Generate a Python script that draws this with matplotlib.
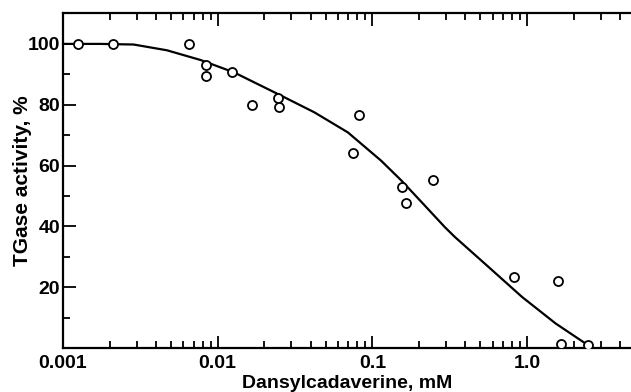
import matplotlib
matplotlib.use('Agg')
import matplotlib.pyplot as plt
from matplotlib.ticker import LogLocator, FixedLocator, NullFormatter

plt.rcParams['font.family'] = ['Liberation Sans', 'DejaVu Sans']
plt.rcParams['font.weight'] = 'bold'

# measured points
conc = [0.00125, 0.0021, 0.0065, 0.0084, 0.0084, 0.01245, 0.0167, 0.0245, 0.025,
        0.075, 0.082, 0.156, 0.166, 0.248, 0.82, 1.58, 1.65, 2.48]
activity = [100, 100, 100, 93.0, 89.5, 90.8, 79.9, 82.1, 79.1,
            64.2, 76.6, 52.9, 47.6, 55.3, 23.4, 22.1, 1.2, 1.0]

# fitted curve
curve_x = [0.001, 0.00174, 0.00286, 0.0047, 0.00776, 0.0128, 0.0257, 0.0422,
           0.0695, 0.114, 0.154, 0.208, 0.295, 0.342, 0.563, 0.929, 1.53, 2.39]
curve_y = [100, 100, 99.8, 97.9, 94.7, 90.6, 83.0, 77.5,
           70.9, 61.6, 55.1, 48.0, 39.7, 36.5, 26.7, 16.8, 8.1, 1.5]

xticks = [0.001, 0.01, 0.1, 1.0]
xtick_labels = ['0.001', '0.01', '0.1', '1.0']
yticks = [20, 40, 60, 80, 100]

fig = plt.figure(figsize=(6.31, 3.92), dpi=100)
ax = fig.add_axes([0.0998, 0.112, 0.9002, 0.8536])

ax.plot(curve_x, curve_y, color='black', lw=1.6, zorder=2, solid_joinstyle='round')
ax.plot(conc, activity, 'o', mfc='white', mec='black', ms=6.5, mew=1.3, zorder=3)

ax.set_xscale('log')
ax.set_xlim(0.001, 4.7)
ax.set_ylim(0, 110)

ax.xaxis.set_major_locator(FixedLocator(xticks))
ax.set_xticklabels(xtick_labels)
ax.xaxis.set_minor_locator(LogLocator(base=10, subs=range(2, 10)))
ax.xaxis.set_minor_formatter(NullFormatter())
ax.set_yticks(yticks)
ax.yaxis.set_minor_locator(FixedLocator([10, 30, 50, 70, 90]))

ax.tick_params(which='both', direction='in', top=True, right=False, width=1.3,
               labelsize=14)
ax.tick_params(which='major', length=9)
ax.tick_params(which='minor', length=5)
ax.tick_params(axis='x', pad=5)
ax.tick_params(axis='y', pad=2)

for s in ['left', 'bottom', 'top']:
    ax.spines[s].set_linewidth(1.6)
ax.spines['right'].set_visible(False)

ax.set_xlabel('Dansylcadaverine, mM', fontsize=14, fontweight='bold', labelpad=2)
ax.set_ylabel('TGase activity, %', fontsize=15, fontweight='bold', labelpad=-3)

fig.savefig('out.png', dpi=100)
